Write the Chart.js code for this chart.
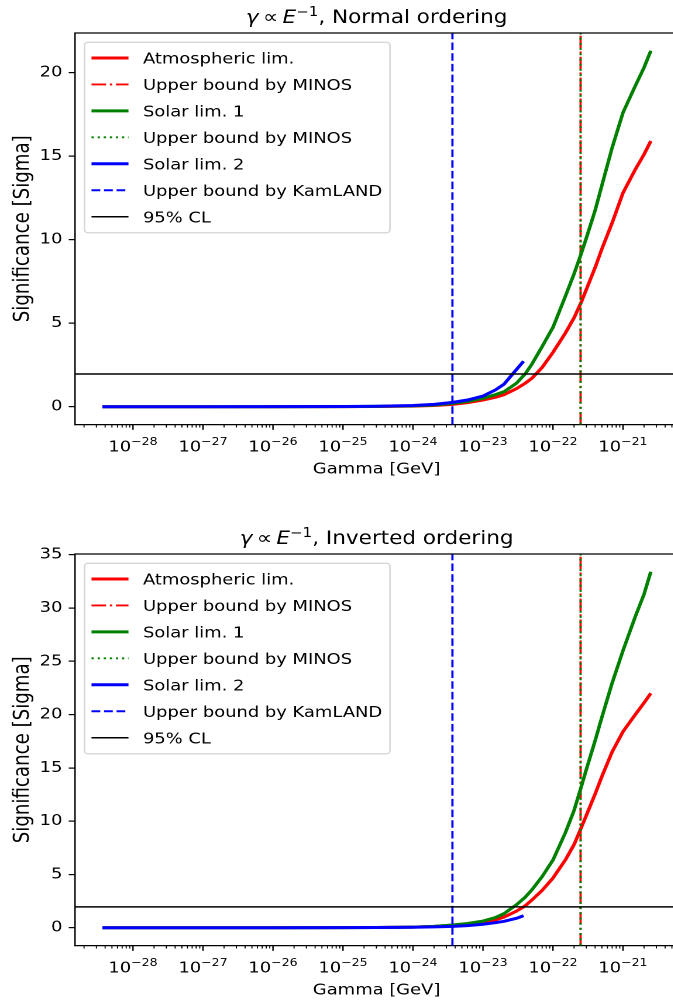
<!DOCTYPE html>
<html>
<head>
<meta charset="utf-8">
<title>Decoherence significance scans</title>
<script src="https://cdn.jsdelivr.net/npm/chart.js@4.4.1/dist/chart.umd.min.js"></script>
<style>
  html, body { margin: 0; padding: 0; background: #fff; overflow: hidden; }
  .page { position: relative; width: 673px; height: 1007px; overflow: hidden; background: #fff; }
  /* figure is exported slightly wider than tall, so stretch each plot horizontally */
  .plot { position: absolute; left: 0; transform: scaleX(1.17); transform-origin: 0 0; }
</style>
</head>
<body>
<div class="page">
  <div class="plot" style="top:0"><canvas id="normalChart" width="585" height="521"></canvas></div>
  <div class="plot" style="top:521px"><canvas id="invertedChart" width="585" height="521"></canvas></div>
</div>
<script>
// Gamma values (GeV) of the atmospheric / solar 1 scans
const gammaGrid = [3.66e-29, 1e-28, 1e-27, 1e-26, 1e-25, 3e-25, 1e-24, 2e-24, 3.7e-24, 6e-24,
  1e-23, 1.5e-23, 2e-23, 3e-23, 4e-23, 5e-23, 7e-23, 1e-22, 1.5e-22, 2e-22,
  2.5e-22, 3e-22, 4e-22, 5e-22, 7e-22, 1e-21, 1.5e-21, 2e-21, 2.5e-21];
// Solar 2 scan stops at ten times the KamLAND bound
const gammaSolar2 = [3.66e-29, 1e-28, 1e-27, 1e-26, 1e-25, 3e-25, 1e-24, 2e-24, 3.7e-24, 6e-24,
  1e-23, 1.5e-23, 2e-23, 3e-23, 3.8e-23];

// Significance [sigma], normal ordering
const atmNormal = [0, 0, 0, 0.001, 0.005, 0.012, 0.035, 0.07, 0.14, 0.24,
  0.4, 0.56, 0.72, 1.08, 1.4, 1.7, 2.35, 3.25, 4.4, 5.32,
  6.2, 7.02, 8.33, 9.45, 11.0, 12.8, 14.2, 15.1, 15.9];
const solar1Normal = [0, 0, 0, 0.001, 0.006, 0.018, 0.05, 0.1, 0.2, 0.32,
  0.5, 0.72, 0.9, 1.4, 1.96, 2.55, 3.6, 4.75, 6.6, 7.95,
  9.1, 10.1, 11.75, 13.25, 15.5, 17.6, 19.2, 20.3, 21.3];
const solar2Normal = [0, 0, 0, 0.002, 0.01, 0.03, 0.07, 0.14, 0.26, 0.4,
  0.64, 1.0, 1.35, 2.22, 2.72];

// Significance [sigma], inverted ordering
const atmInverted = [0, 0, 0, 0.001, 0.005, 0.015, 0.06, 0.12, 0.24, 0.34,
  0.48, 0.72, 1.0, 1.55, 2.05, 2.6, 3.5, 4.66, 6.35, 7.8,
  9.3, 10.55, 12.55, 14.2, 16.5, 18.4, 20.0, 21.1, 22.0];
const solar1Inverted = [0, 0, 0, 0.001, 0.007, 0.02, 0.06, 0.12, 0.26, 0.4,
  0.62, 0.95, 1.32, 2.15, 2.85, 3.56, 4.8, 6.35, 8.9, 11.0,
  13.1, 14.86, 17.56, 19.76, 22.96, 26.0, 29.2, 31.3, 33.4];
const solar2Inverted = [0, 0, 0, 0.001, 0.005, 0.015, 0.04, 0.08, 0.12, 0.19,
  0.32, 0.47, 0.6, 0.88, 1.12];

// Experimental upper bounds (GeV) and the 95% CL level
const MINOS_BOUND = 2.48e-22;
const KAMLAND_BOUND = 3.66e-24;
const CL95 = 1.96;

// Axis tick labels
const xMajorExponents = [-28, -27, -26, -25, -24, -23, -22, -21];
const yTicksNormal = [0, 5, 10, 15, 20];
const yTicksInverted = [0, 5, 10, 15, 20, 25, 30, 35];

const FONT = "'DejaVu Sans', sans-serif";
const FS = 15.3;        // tick, legend and x label size
const YLABEL_FS = 18.2; // y label is set larger
const TITLE_FS = 18.4;

// Plot box inside each canvas
const BOX = { width: 585, height: 521, left: 64.1, right: 579.7, top: 33, bottom: 424.5, xAxisHeight: 60 };

const LEGEND = { left: 72.2, top: 42.3, width: 261.1, height: 190.5, radius: 3,
  lineX0: 78.2, lineX1: 109.8, textX: 122.2, firstRow: 58, rowStep: 26.45 };

// matplotlib-like limits: 5% margin (in log space for x)
function paddedLogRange(values) {
  const lo = Math.log10(Math.min(...values));
  const hi = Math.log10(Math.max(...values));
  const m = 0.05 * (hi - lo);
  return [Math.pow(10, lo - m), Math.pow(10, hi + m)];
}
function paddedRange(values) {
  const lo = Math.min(...values);
  const hi = Math.max(...values);
  const m = 0.05 * (hi - lo);
  return [lo - m, hi + m];
}

function strokeLine(ctx, x0, y0, x1, y1, width, color) {
  ctx.save();
  ctx.strokeStyle = color;
  ctx.lineWidth = width;
  ctx.beginPath();
  ctx.moveTo(x0, y0);
  ctx.lineTo(x1, y1);
  ctx.stroke();
  ctx.restore();
}

// Top and right spines
const axesFrame = {
  id: 'axesFrame',
  afterDraw(chart) {
    const { ctx, chartArea: a } = chart;
    strokeLine(ctx, a.left - 0.6, a.top, a.right + 0.6, a.top, 1.22, '#000');
    strokeLine(ctx, a.right, a.top, a.right, a.bottom, 1.22, '#000');
  }
};

// Log x axis: major/minor tick marks and 10^n labels
const logAxisTicks = {
  id: 'logAxisTicks',
  afterDraw(chart) {
    const { ctx, chartArea: a } = chart;
    const xs = chart.scales.x;
    const y0 = a.bottom;
    const eLo = Math.floor(Math.log10(xs.min));
    const eHi = Math.ceil(Math.log10(xs.max));
    for (let e = eLo; e <= eHi; e++) {
      for (let k = 2; k <= 9; k++) {
        const v = k * Math.pow(10, e);
        if (v < xs.min || v > xs.max) continue;
        const px = xs.getPixelForValue(v);
        strokeLine(ctx, px, y0, px, y0 + 3.06, 0.92, '#000');
      }
    }
    ctx.save();
    ctx.fillStyle = '#000';
    ctx.textBaseline = 'alphabetic';
    ctx.textAlign = 'left';
    const baseFont = `${FS}px ${FONT}`;
    const supFont = `${(FS * 0.7).toFixed(2)}px ${FONT}`;
    xMajorExponents.forEach(e => {
      const px = xs.getPixelForValue(Math.pow(10, e));
      strokeLine(ctx, px, y0, px, y0 + 5.35, 1.22, '#000');
      const sup = '\u2212' + Math.abs(e);
      ctx.font = baseFont;
      const wBase = ctx.measureText('10').width;
      ctx.font = supFont;
      const wSup = ctx.measureText(sup).width;
      const x0 = px - (wBase + wSup) / 2;
      ctx.font = baseFont;
      ctx.fillText('10', x0, y0 + 27.2);
      ctx.font = supFont;
      ctx.fillText(sup, x0 + wBase, y0 + 20.5);
    });
    ctx.restore();
  }
};

// Title with math italics and a superscript
const mathTitle = {
  id: 'mathTitle',
  afterDraw(chart, args, opts) {
    const { ctx, chartArea: a } = chart;
    const parts = [
      { text: '\u03b3', font: `italic ${TITLE_FS}px ${FONT}`, rise: 0 },
      { text: '\u2009\u221d\u2009', font: `${TITLE_FS}px ${FONT}`, rise: 0 },
      { text: 'E', font: `italic ${TITLE_FS}px ${FONT}`, rise: 0 },
      { text: '\u22121', font: `${(TITLE_FS * 0.7).toFixed(2)}px ${FONT}`, rise: 7 },
      { text: ', ' + opts.ordering, font: `${TITLE_FS}px ${FONT}`, rise: 0 }
    ];
    ctx.save();
    ctx.fillStyle = '#000';
    ctx.textBaseline = 'alphabetic';
    ctx.textAlign = 'left';
    let total = 0;
    parts.forEach(p => { ctx.font = p.font; p.w = ctx.measureText(p.text).width; total += p.w; });
    let x = (a.left + a.right) / 2 - total / 2;
    parts.forEach(p => {
      ctx.font = p.font;
      ctx.fillText(p.text, x, opts.baseline - p.rise);
      x += p.w;
    });
    ctx.restore();
  }
};

// Framed legend in the upper left corner, built from the datasets
const boxedLegend = {
  id: 'boxedLegend',
  afterDraw(chart) {
    const { ctx } = chart;
    const L = LEGEND;
    ctx.save();
    ctx.beginPath();
    ctx.roundRect(L.left, L.top, L.width, L.height, L.radius);
    ctx.fillStyle = 'rgba(255,255,255,0.8)';
    ctx.fill();
    ctx.strokeStyle = 'rgba(204,204,204,0.8)';
    ctx.lineWidth = 1.3;
    ctx.stroke();
    ctx.font = `${FS}px ${FONT}`;
    ctx.fillStyle = '#000';
    ctx.textBaseline = 'alphabetic';
    chart.data.datasets.forEach((ds, i) => {
      const y = L.firstRow + i * L.rowStep;
      ctx.save();
      ctx.strokeStyle = ds.borderColor;
      ctx.lineWidth = ds.borderWidth;
      ctx.setLineDash(ds.borderDash);
      ctx.beginPath();
      ctx.moveTo(L.lineX0, y);
      ctx.lineTo(L.lineX1, y);
      ctx.stroke();
      ctx.restore();
      ctx.fillText(ds.label, L.textX, y + 5.6);
    });
    ctx.restore();
  }
};

function makeChart(canvasId, ordering, atm, sol1, sol2, yTicks) {
  const [xMin, xMax] = paddedLogRange(gammaGrid.concat(gammaSolar2));
  const [yMin, yMax] = paddedRange(atm.concat(sol1, sol2));

  const toPoints = (xs, ys) => xs.map((x, i) => ({ x: x, y: ys[i] }));
  const curve = (label, xs, ys, color) =>
    ({ label, data: toPoints(xs, ys), borderColor: color, borderWidth: 3, borderDash: [] });
  const vline = (label, x, color, dash) =>
    ({ label, data: [{ x: x, y: yMin }, { x: x, y: yMax }], borderColor: color, borderWidth: 1.9, borderDash: dash });
  const hline = (label, y, color) =>
    ({ label, data: [{ x: xMin, y: y }, { x: xMax, y: y }], borderColor: color, borderWidth: 1.5, borderDash: [] });

  const datasets = [
    curve('Atmospheric lim.', gammaGrid, atm, '#ff0000'),
    vline('Upper bound by MINOS', MINOS_BOUND, '#ff0000', [12.5, 3.2, 2, 3.2]),
    curve('Solar lim. 1', gammaGrid, sol1, '#008000'),
    vline('Upper bound by MINOS', MINOS_BOUND, '#008000', [2, 3.2]),
    curve('Solar lim. 2', gammaSolar2, sol2, '#0000ff'),
    vline('Upper bound by KamLAND', KAMLAND_BOUND, '#0000ff', [7.5, 3.2]),
    hline('95% CL', CL95, '#000000')
  ];
  // later series are drawn on top
  datasets.forEach((ds, i) => {
    ds.order = datasets.length - i;
    ds.pointRadius = 0;
    ds.pointHoverRadius = 0;
    ds.tension = 0;
    ds.fill = false;
    ds.borderCapStyle = 'butt';
    ds.borderJoinStyle = 'round';
  });

  return new Chart(document.getElementById(canvasId), {
    type: 'line',
    data: { datasets: datasets },
    options: {
      responsive: false,
      animation: false,
      devicePixelRatio: 2,
      layout: {
        padding: {
          top: BOX.top,
          left: 0,
          right: BOX.width - BOX.right,
          bottom: BOX.height - BOX.bottom - BOX.xAxisHeight
        }
      },
      plugins: {
        legend: { display: false },
        title: { display: false },
        tooltip: { enabled: false },
        mathTitle: { ordering: ordering, baseline: 23 }
      },
      scales: {
        x: {
          type: 'logarithmic',
          min: xMin,
          max: xMax,
          grid: { display: false },
          border: { display: true, color: '#000', width: 1.22 },
          ticks: { display: false },
          afterFit: s => { s.height = BOX.xAxisHeight; },
          title: {
            display: true,
            text: 'Gamma [GeV]',
            color: '#000',
            font: { family: FONT, size: FS, lineHeight: 1.2 },
            padding: { top: 0, bottom: 5.9 }
          }
        },
        y: {
          min: yMin,
          max: yMax,
          afterBuildTicks: s => { s.ticks = yTicks.map(v => ({ value: v })); },
          ticks: { color: '#000', font: { family: FONT, size: FS }, padding: 5.35 },
          grid: { drawOnChartArea: false, drawTicks: true, tickLength: 5.35, color: '#000', lineWidth: 1.22 },
          border: { color: '#000', width: 1.22 },
          afterFit: s => { s.width = BOX.left; },
          title: {
            display: true,
            text: 'Significance [Sigma]',
            color: '#000',
            font: { family: FONT, size: YLABEL_FS, lineHeight: 1.2 },
            padding: { top: 8.8, bottom: 0 }
          }
        }
      }
    },
    plugins: [axesFrame, logAxisTicks, mathTitle, boxedLegend]
  });
}

const normalChart = makeChart('normalChart', 'Normal ordering', atmNormal, solar1Normal, solar2Normal, yTicksNormal);
const invertedChart = makeChart('invertedChart', 'Inverted ordering', atmInverted, solar1Inverted, solar2Inverted, yTicksInverted);
</script>
</body>
</html>
